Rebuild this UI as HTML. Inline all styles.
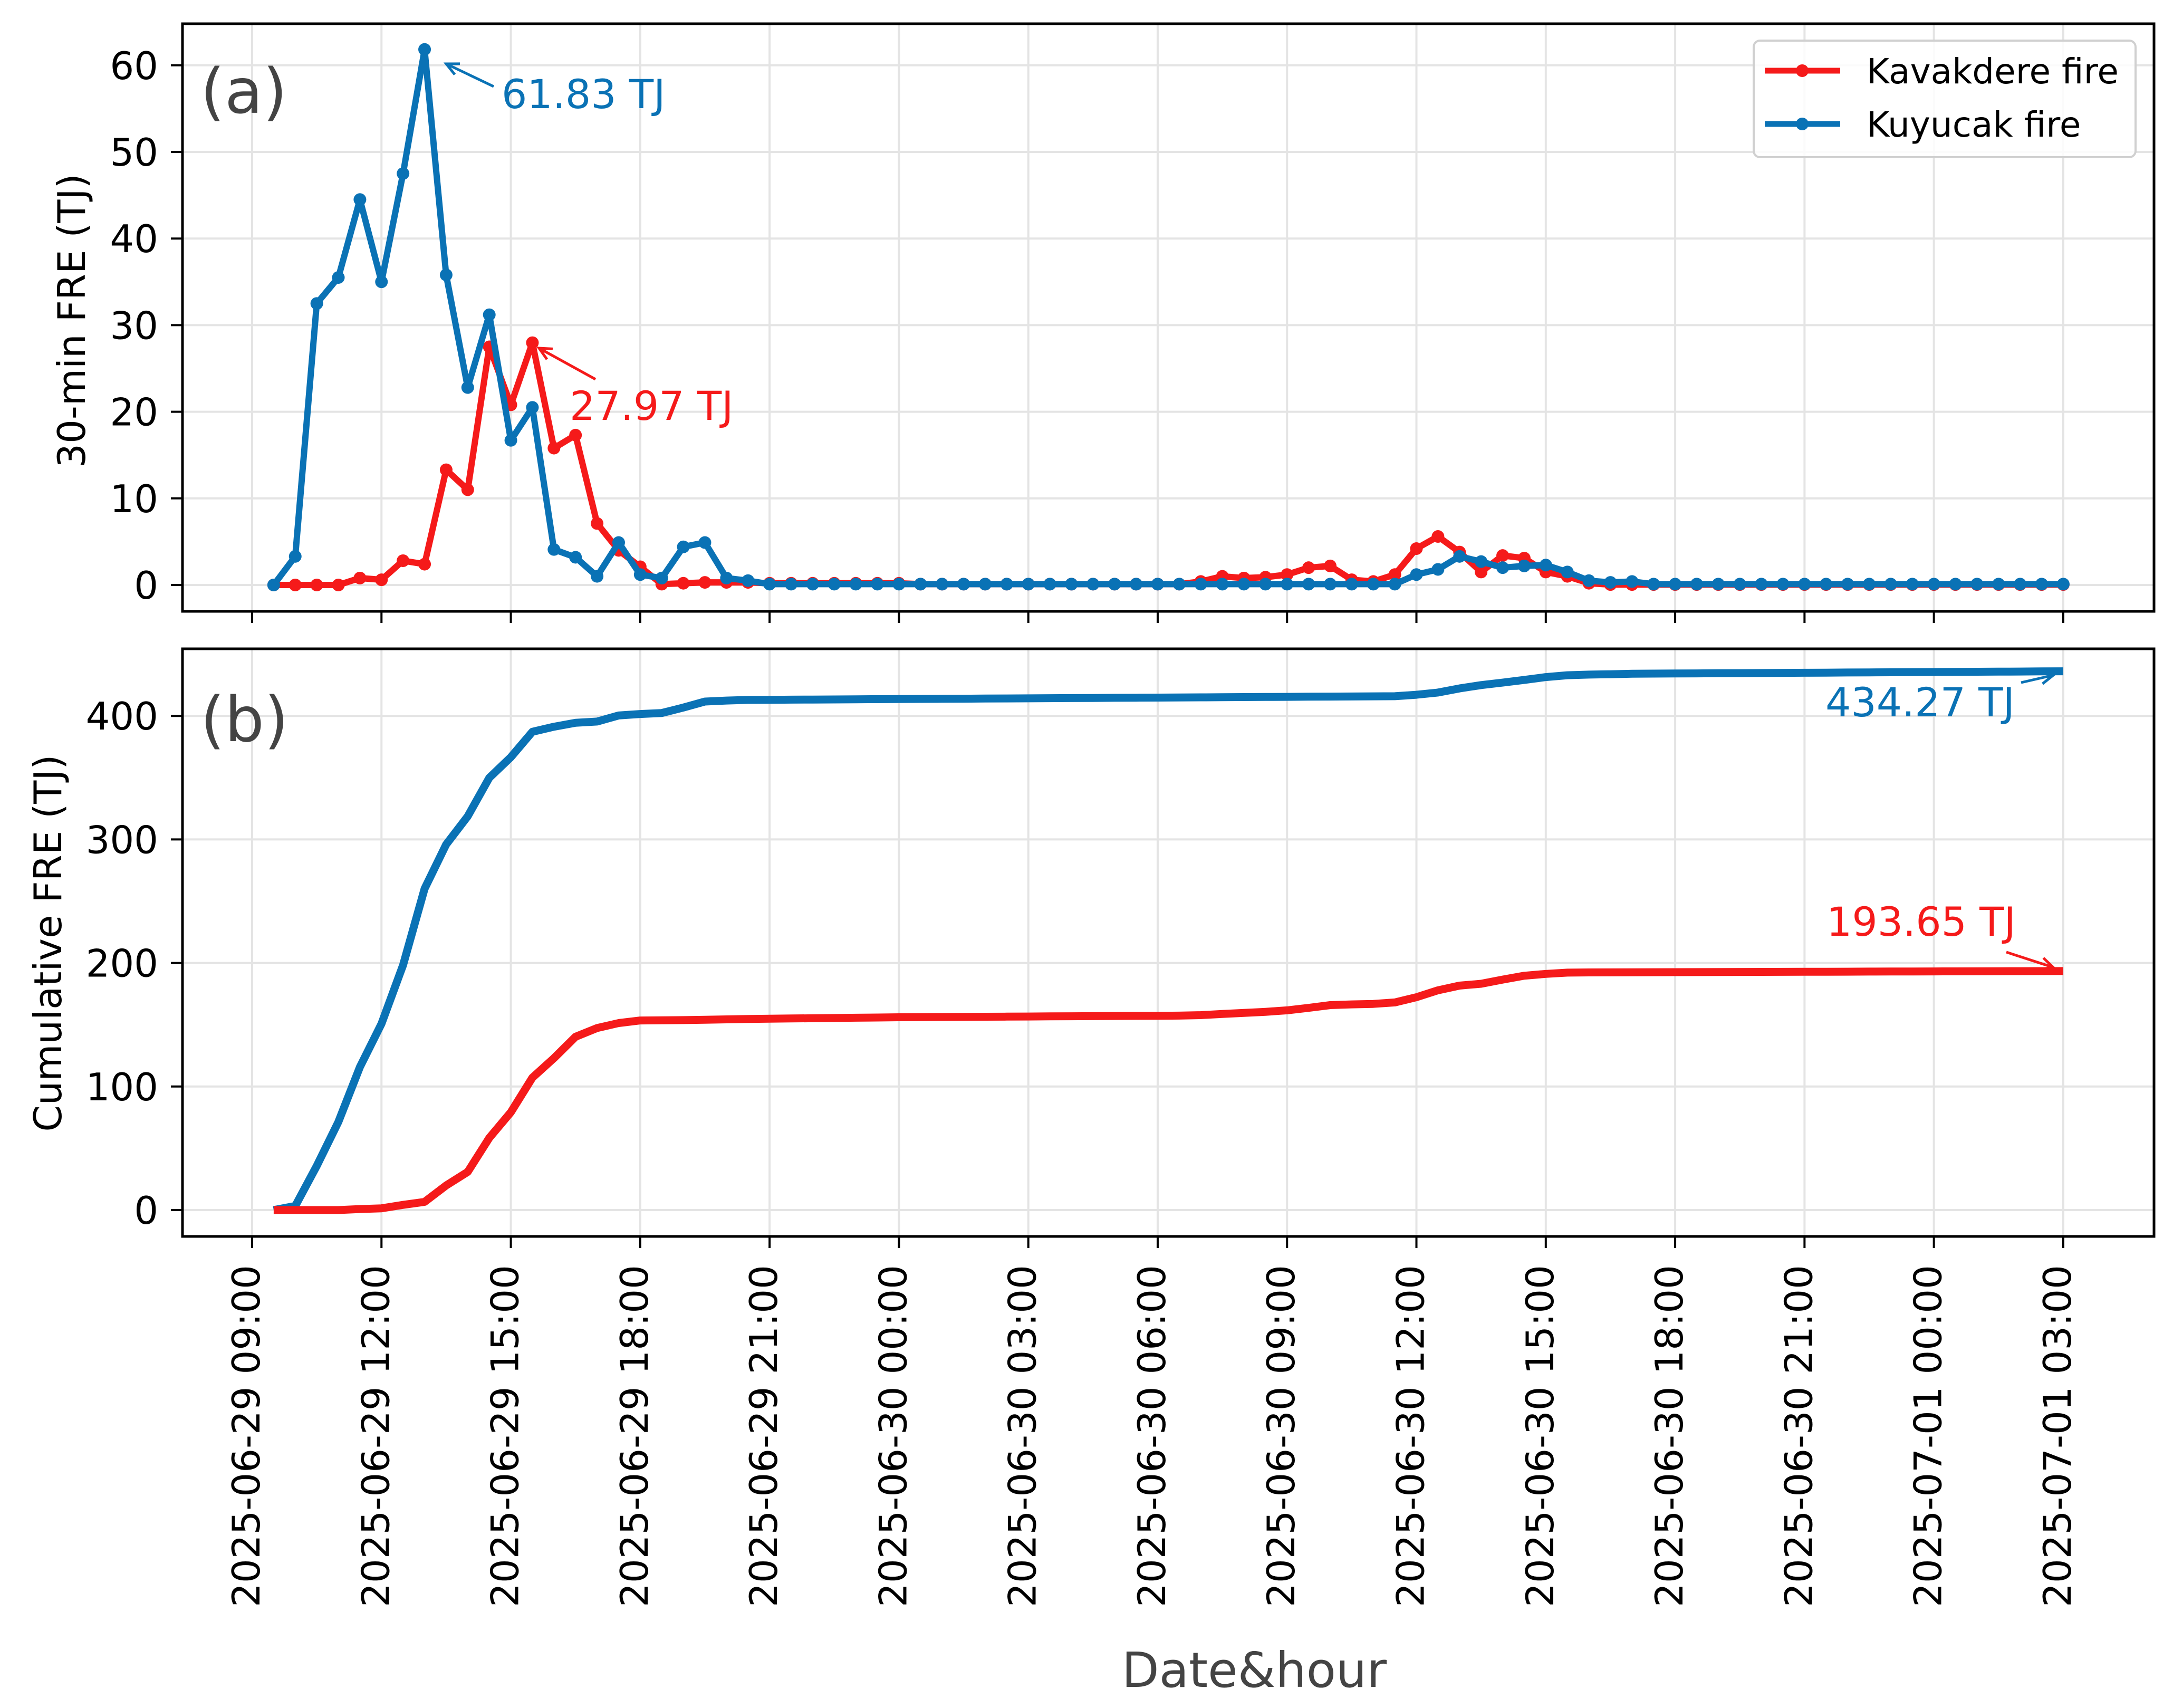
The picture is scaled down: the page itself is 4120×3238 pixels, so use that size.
<!DOCTYPE html>
<html><head><meta charset="utf-8"><style>
html,body{margin:0;padding:0;background:#fff}
svg{display:block}
text{font-family:"DejaVu Sans","Liberation Sans",sans-serif}
</style></head><body>
<svg id="chart" width="4120" height="3238" viewBox="0 0 4120 3238" xmlns="http://www.w3.org/2000/svg">
<g id="grid"></g><g id="axes"></g><g id="series"></g><g id="labels"></g>
</svg>
<script>
// ---- data ----
const startHourOffset = 0.5; // first sample at 2025-06-29 09:30
const stepHours = 0.5;
const xTickLabels = ["2025-06-29 09:00","2025-06-29 12:00","2025-06-29 15:00","2025-06-29 18:00","2025-06-29 21:00","2025-06-30 00:00","2025-06-30 03:00","2025-06-30 06:00","2025-06-30 09:00","2025-06-30 12:00","2025-06-30 15:00","2025-06-30 18:00","2025-06-30 21:00","2025-07-01 00:00","2025-07-01 03:00"];
const yTicksA = [0,10,20,30,40,50,60];
const yTicksB = [0,100,200,300,400];
const kavakdere = [0,0,0,0,0.8,0.6,2.8,2.4,13.3,11.0,27.5,20.8,27.97,15.8,17.3,7.1,4.0,2.1,0.1,0.2,0.3,
 0.3,0.3,0.2,0.2,0.2,0.2,0.2,0.2,0.2,0.1,0.1,0.1,0.1,0.1,0.1,0.1,0.1,0.1,0.1,0.1,0.1,0.1,
 0.4,1.0,0.8,0.9,1.2,2.0,2.2,0.6,0.4,1.2,4.2,5.6,3.8,1.5,3.4,3.1,1.5,1.0,0.2,
 0.05,0.05,0.05,0.05,0.05,0.05,0.05,0.05,0.05,0.05,0.05,0.05,0.05,0.05,0.05,0.05,0.05,0.05,0.05,0.05,0.05,0.05];
const kuyucak = [0,3.3,32.5,35.5,44.5,35.0,47.5,61.83,35.8,22.8,31.2,16.7,20.5,4.1,3.2,1.0,4.9,1.2,0.8,4.4,4.9,0.8,0.5,
 0.1,0.1,0.1,0.1,0.1,0.1,0.1,0.1,0.1,0.1,0.1,0.1,0.1,0.1,0.1,0.1,0.1,0.1,0.1,0.1,0.1,0.1,0.1,0.1,0.1,0.1,0.1,0.1,0.1,0.1,
 1.2,1.8,3.3,2.7,2.0,2.2,2.3,1.5,0.5,0.3,0.4,
 0.1,0.1,0.1,0.1,0.1,0.1,0.1,0.1,0.1,0.1,0.1,0.1,0.1,0.1,0.1,0.1,0.1,0.1,0.1,0.1];

// ---- layout ----
const NS="http://www.w3.org/2000/svg";
const L=346,R=4084;
const A={top:45,bot:1159,y0:1109,per:16.42};
const B={top:1230,bot:2344,y0:2294,per:2.342};
const x0=478,pxPerHour=81.76;
const RED="#f51a1a",BLUE="#0a72b5";
function X(h){return x0+h*pxPerHour;}
function YA(v){return A.y0-v*A.per;}
function YB(v){return B.y0-v*B.per;}
function el(tag,attrs,parent){const e=document.createElementNS(NS,tag);for(const k in attrs)e.setAttribute(k,attrs[k]);parent.appendChild(e);return e;}
const grid=document.getElementById('grid'),axes=document.getElementById('axes'),series=document.getElementById('series'),labels=document.getElementById('labels');

[A,B].forEach((P,pi)=>{
  xTickLabels.forEach((lab,i)=>{
    const x=X(i*3);
    const g=el('line',{x1:x,x2:x,y1:P.top,y2:P.bot,stroke:'#e4e4e4','stroke-width':4},grid);
    
    
    const t=el('line',{x1:x,x2:x,y1:P.bot,y2:P.bot+22,stroke:'#000','stroke-width':4},axes);
    
    
  });
  const ticks=pi===0?yTicksA:yTicksB, Y=pi===0?YA:YB;
  ticks.forEach(v=>{
    const y=Y(v);
    const g=el('line',{x1:L,x2:R,y1:y,y2:y,stroke:'#e4e4e4','stroke-width':4},grid);
    
    
    const t=el('line',{x1:L-22,x2:L,y1:y,y2:y,stroke:'#000','stroke-width':4},axes);
    
    
    const tx=el('text',{x:300,y:y+26,'text-anchor':'end','font-size':72,fill:'#000'},labels);
    tx.textContent=v;
    
    
  });
  const f=el('rect',{x:L,y:P.top,width:R-L,height:P.bot-P.top,fill:'none',stroke:'#000','stroke-width':5},axes);
  
  
});
xTickLabels.forEach((lab,i)=>{
  const x=X(i*3)+14;
  const t=el('text',{x:x,y:2398,'text-anchor':'end','font-size':72,fill:'#000',transform:`rotate(-90 ${x} 2398)`},labels);
  t.textContent=lab;
  
  
});

function hour(i){return startHourOffset+i*stepHours;}
function cumsum(a){let s=0;return a.map(v=>s+=v);}
function drawLine(vals,Y,color,w,name,markers){
  const pts=vals.map((v,i)=>X(hour(i)).toFixed(1)+','+Y(v).toFixed(1)).join(' ');
  const p=el('polyline',{points:pts,fill:'none',stroke:color,'stroke-width':w,'stroke-linejoin':'round'},series);
  
  
  if(markers){vals.forEach((v,i)=>{
    const c=el('circle',{cx:X(hour(i)),cy:Y(v),r:12,fill:color},series);
    
    
  });}
}
drawLine(kavakdere,YA,RED,12,'kavakdere-30min-line',true);
drawLine(kuyucak,YA,BLUE,12,'kuyucak-30min-line',true);
drawLine(cumsum(kuyucak),YB,BLUE,15,'kuyucak-cumulative-line',false);
drawLine(cumsum(kavakdere),YB,RED,15,'kavakdere-cumulative-line',false);
</script>
<script>
(function(){
const NS="http://www.w3.org/2000/svg";
const labels=document.getElementById('labels');
function el(tag,attrs){const e=document.createElementNS(NS,tag);for(const k in attrs)e.setAttribute(k,attrs[k]);labels.appendChild(e);return e;}
function txt(s,attrs,name){const t=el('text',attrs);t.textContent=s;return t;}
function arrow(x1,y1,x2,y2,color,name){
  const l=el('line',{x1,y1,x2,y2,stroke:color,'stroke-width':5});
  
  
  const a=Math.atan2(y2-y1,x2-x1),s=26;
  const p=el('polyline',{points:`${x2-s*Math.cos(a-0.45)},${y2-s*Math.sin(a-0.45)} ${x2},${y2} ${x2-s*Math.cos(a+0.45)},${y2-s*Math.sin(a+0.45)}`,fill:'none',stroke:color,'stroke-width':5});
  
  
}
const RED="#f51a1a",BLUE="#0a72b5";
txt('(a)',{x:380,y:214,'font-size':118,fill:'#444'},'panel-a-label');
txt('(b)',{x:380,y:1405,'font-size':118,fill:'#444'},'panel-b-label');
txt('30-min FRE (TJ)',{x:161,y:608,'font-size':72,'text-anchor':'middle',transform:'rotate(-90 161 608)'},'y-axis-title-a');
txt('Cumulative FRE (TJ)',{x:116,y:1788,'font-size':72,'text-anchor':'middle',transform:'rotate(-90 116 1788)'},'y-axis-title-b');
txt('Date&hour',{x:2378,y:3198,'font-size':92,'text-anchor':'middle',fill:'#444'},'x-axis-title');
const cond={'font-family':'"DejaVu Sans Condensed","DejaVu Sans",sans-serif','font-size':76};
txt('61.83 TJ',Object.assign({x:951,y:205,fill:BLUE},cond),'peak-annotation-kuyucak');
arrow(936,164,846,121,BLUE,'peak-arrow-kuyucak');
txt('27.97 TJ',Object.assign({x:1080,y:796,fill:RED},cond),'peak-annotation-kavakdere');
arrow(1129,719,1022,660,RED,'peak-arrow-kavakdere');
txt('434.27 TJ',Object.assign({x:3461,y:1358,fill:BLUE},cond),'total-annotation-kuyucak');
arrow(3832,1294,3893,1280,BLUE,'total-arrow-kuyucak');
txt('193.65 TJ',Object.assign({x:3463,y:1774,fill:RED},cond),'total-annotation-kavakdere');
arrow(3804,1805,3893,1834,RED,'total-arrow-kavakdere');
const box=el('rect',{x:3325,y:77,width:724,height:221,rx:12,fill:'#fff','fill-opacity':0.85,stroke:'#d0d0d0','stroke-width':4});


[[RED,'Kavakdere fire',134],[BLUE,'Kuyucak fire',235]].forEach(([c,s,y])=>{
  const l=el('line',{x1:3346,x2:3489,y1:y,y2:y,stroke:c,'stroke-width':11});
  
  
  const m=el('circle',{cx:3417,cy:y,r:12,fill:c});
  
  
  txt(s,{x:3539,y:y+24,'font-size':66,fill:'#000'},'legend-entry');
});
})();
</script>
</body></html>
